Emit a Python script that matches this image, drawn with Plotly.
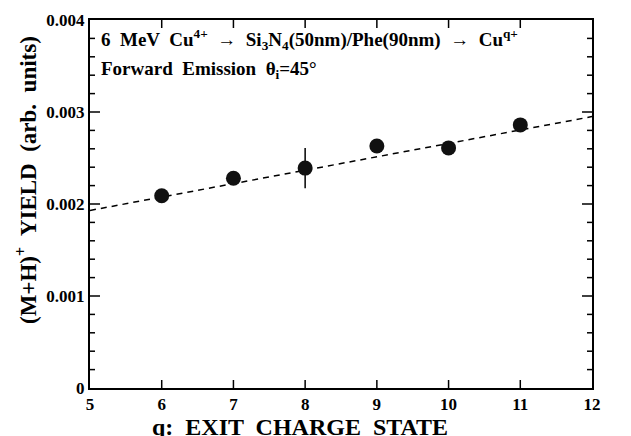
import plotly.graph_objects as go

# ---- data ----
q = [6, 7, 8, 9, 10, 11]
yield_vals = [0.00209, 0.00228, 0.00239, 0.00263, 0.00261, 0.00286]
yield_err = [0, 0, 0.00022, 0, 0, 0]
fit_x = [5, 12]
fit_y = [0.00193, 0.00295]
x_range = [5, 12]
y_range = [0, 0.004]
xtick_vals = [5, 6, 7, 8, 9, 10, 11, 12]
xtick_text = ["5", "6", "7", "8", "9", "10", "11", "12"]
ytick_vals = [0, 0.001, 0.002, 0.003, 0.004]
ytick_text = ["0", "0.001", "0.002", "0.003", "0.004"]
yminor_vals = [0.0002, 0.0004, 0.0006, 0.0008, 0.0012, 0.0014, 0.0016, 0.0018,
               0.0022, 0.0024, 0.0026, 0.0028, 0.0032, 0.0034, 0.0036, 0.0038]

FONT = "Liberation Serif"
W, H = 631, 436
ML, MR, MT, MB = 90, 39, 20, 48
PW, PH = W - ML - MR, H - MT - MB

dx = (x_range[1] - x_range[0]) / PW
dy = (y_range[1] - y_range[0]) / PH
XT_LEN, YT_LEN, YM_LEN = 8, 10, 5
inner_x = xtick_vals[1:-1]
inner_y = ytick_vals[1:-1]

# tick marks as line segments (inside the frame, on all four sides)
tx, ty = [], []
for v in inner_x:
    tx += [v, v, None, v, v, None]
    ty += [y_range[0], y_range[0] + XT_LEN * dy, None,
           y_range[1], y_range[1] - XT_LEN * dy, None]
for v in inner_y:
    tx += [x_range[0], x_range[0] + YT_LEN * dx, None,
           x_range[1], x_range[1] - YT_LEN * dx, None]
    ty += [v, v, None, v, v, None]
for v in yminor_vals:
    tx += [x_range[0], x_range[0] + YM_LEN * dx, None,
           x_range[1], x_range[1] - YM_LEN * dx, None]
    ty += [v, v, None, v, v, None]

fig = go.Figure()
fig.add_trace(go.Scatter(x=tx, y=ty, mode="lines", cliponaxis=False,
                         line=dict(color="black", width=1.5),
                         showlegend=False, hoverinfo="skip", connectgaps=False))
fig.add_trace(go.Scatter(x=fit_x, y=fit_y, mode="lines",
                         line=dict(color="black", width=1.5, dash="6px,5px"),
                         showlegend=False, hoverinfo="skip"))
fig.add_trace(go.Scatter(x=q, y=yield_vals, mode="markers",
                         marker=dict(color="#111111", size=15),
                         error_y=dict(type="data", array=yield_err, visible=True,
                                      color="black", thickness=1.5, width=0),
                         showlegend=False))

fig.add_annotation(xref="paper", yref="paper", x=0.018, y=0.948, xanchor="left", yanchor="middle",
                   text="<b>6  MeV  Cu<sup>4+</sup>  →  Si<sub>3</sub>N<sub>4</sub>(50nm)/Phe(90nm)  →  Cu<sup>q+</sup></b>",
                   showarrow=False, font=dict(family=FONT, size=19, color="black"))
fig.add_annotation(xref="paper", yref="paper", x=0.018, y=0.863, xanchor="left", yanchor="middle",
                   text="<b>Forward  Emission  θ<sub>i</sub>=45°</b>",
                   showarrow=False, font=dict(family=FONT, size=19, color="black"))
# axis titles
fig.add_annotation(xref="paper", yref="paper", x=(300 - ML) / PW, y=(MT + PH - 427) / PH,
                   xanchor="center", yanchor="middle",
                   text="<b>q:  EXIT  CHARGE  STATE</b>", showarrow=False,
                   font=dict(family=FONT, size=24, color="black"))
fig.add_annotation(xref="paper", yref="paper", x=(26 - ML) / PW, y=(MT + PH - 180) / PH,
                   xanchor="center", yanchor="middle", textangle=-90,
                   text="<b>(M+H)<sup>+</sup>  YIELD  (arb.  units)</b>", showarrow=False,
                   font=dict(family=FONT, size=23, color="black"))

fig.update_layout(
    width=W, height=H,
    margin=dict(l=ML, r=MR, t=MT, b=MB),
    paper_bgcolor="white", plot_bgcolor="white",
    font=dict(family=FONT, color="black"),
    xaxis=dict(range=x_range, tickvals=xtick_vals,
               ticktext=["<b>%s</b>" % t for t in xtick_text],
               showline=True, linecolor="black", linewidth=2, mirror=True,
               showgrid=False, zeroline=False, ticklabelstandoff=0,
               tickfont=dict(family=FONT, size=17, color="black", weight="bold")),
    yaxis=dict(range=y_range, tickvals=ytick_vals,
               ticktext=["<b>%s</b>" % t for t in ytick_text],
               showline=True, linecolor="black", linewidth=2, mirror=True,
               showgrid=False, zeroline=False,
               tickfont=dict(family=FONT, size=17, color="black", weight="bold")),
)

fig.write_html("out.html")
